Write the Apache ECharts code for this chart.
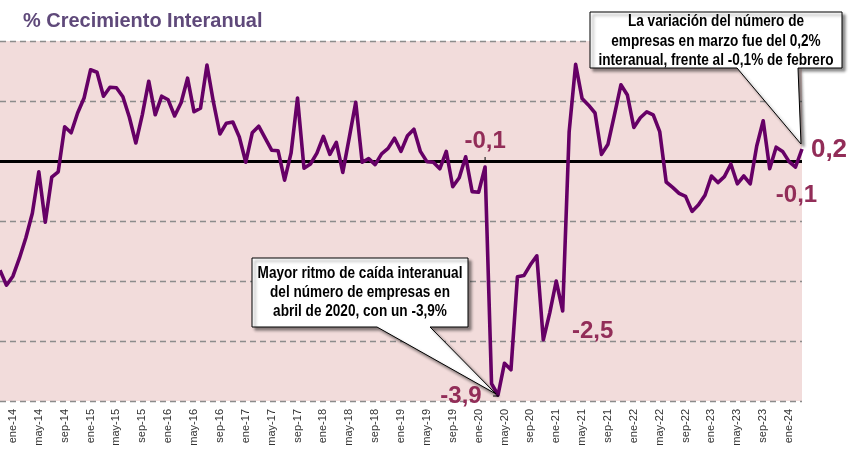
<!DOCTYPE html>
<html>
<head>
<meta charset="utf-8">
<script src="https://cdn.jsdelivr.net/npm/echarts@6.0.0/dist/echarts.min.js"></script>
<style>html,body{margin:0;padding:0;background:#fff}#c{width:850px;height:472px}</style>
</head>
<body>
<div id="c"></div>
<script>
// Months (Spanish abbreviations) and series start
const monthNames = ['ene','feb','mar','abr','may','jun','jul','ago','sep','oct','nov','dic'];
const startMonthIdx = 10; // nov
const startYear = 2013;

// % year-on-year growth in number of companies, nov-13 .. mar-24
const growth = [
  -1.82, -2.07, -1.92, -1.62, -1.28, -0.87, -0.18, -1.02, -0.27, -0.18,
   0.57,  0.47,  0.80,  1.05,  1.52,  1.48,  1.08,  1.23,  1.22,  1.07,
   0.73,  0.30,  0.77,  1.33,  0.77,  1.08,  1.02,  0.75,  0.97,  1.38,
   0.82,  0.88,  1.60,  0.98,  0.45,  0.63,  0.65,  0.40, -0.02,  0.47,
   0.58,  0.38,  0.18,  0.17, -0.32,  0.13,  1.05, -0.12, -0.05,  0.13,
   0.41,  0.11,  0.31, -0.19,  0.39,  0.98, -0.02,  0.04, -0.06,  0.12,
   0.21,  0.38,  0.16,  0.42,  0.53,  0.16, -0.01, -0.02, -0.13,  0.16,
  -0.43, -0.28,  0.07, -0.51, -0.52, -0.10, -3.71, -3.90, -3.37, -3.48,
  -1.93, -1.91, -1.73, -1.58, -2.98, -2.53, -2.00, -2.50,  0.49,  1.61,
   1.04,  0.93,  0.80,  0.11,  0.28,  0.77,  1.27,  1.10,  0.56,  0.72,
   0.82,  0.77,  0.49, -0.35, -0.44, -0.54, -0.59, -0.84, -0.73, -0.57,
  -0.25, -0.36, -0.26, -0.05, -0.38, -0.25, -0.38,  0.25,  0.67, -0.13,
   0.23,  0.16, -0.01, -0.10,  0.20
];

// Highlighted values: [index, label text]
const highlightIdx = [75, 77, 87, 124, 123];
const highlightText = ['-0,1', '-3,9', '-2,5', '0,2', '-0,1'];

const titleText = '% Crecimiento Interanual';
const calloutLow = ['Mayor ritmo de caída interanual', 'del número de empresas en', 'abril de 2020, con un -3,9%'];
const calloutHigh = ['La variación del número de', 'empresas en marzo fue del 0,2%', 'interanual, frente al -0,1% de febrero'];

const categories = [];
for (let i = 0; i < growth.length; i++) {
  const m = (startMonthIdx + i) % 12;
  const y = startYear + Math.floor((startMonthIdx + i) / 12);
  categories.push(monthNames[m] + '-' + String(y).slice(2));
}

const labelOffsets = [[0, -26], [-37, 1], [30, 20], [27, 1], [1, 28]];
const LABEL_COLOR = '#922d58';

const chart = echarts.init(document.getElementById('c'), null, {renderer: 'canvas'});
const option = {
  animation: false,
  backgroundColor: '#fff',
  grid: {
    left: 0, right: 48, top: 41, bottom: 71,
    show: true, backgroundColor: '#f2dcdb', borderWidth: 0,
    containLabel: false, outerBoundsMode: 'none'
  },
  xAxis: {
    type: 'category',
    data: categories,
    boundaryGap: false,
    axisLine: {show: false},
    axisTick: {show: false},
    splitLine: {show: false},
    axisLabel: {
      rotate: 90, margin: 8, fontSize: 11, color: '#333',
      fontFamily: 'Liberation Sans, Arial, sans-serif',
      interval: function (i) { return (i - 2) % 4 === 0; }
    }
  },
  yAxis: {
    type: 'value', min: -4, max: 2, interval: 1,
    axisLine: {show: false}, axisTick: {show: false}, axisLabel: {show: false},
    splitLine: {show: true, lineStyle: {color: '#8c8c8c', width: 1.3, type: [6, 4]}}
  },
  series: [{
    type: 'line',
    data: growth,
    symbol: 'none',
    z: 3,
    lineStyle: {color: '#660066', width: 3.6, join: 'round'},
    markLine: {
      silent: true, symbol: 'none', z: 2,
      label: {show: false},
      lineStyle: {color: '#000', width: 3, type: 'solid'},
      data: [{yAxis: 0}]
    },
    markPoint: {
      symbol: 'circle', symbolSize: 1,
      itemStyle: {color: 'rgba(0,0,0,0)'},
      data: highlightIdx.map((idx, k) => ({
        name: highlightText[k],
        coord: [idx, growth[idx]],
        label: {
          show: true, position: 'inside', formatter: highlightText[k],
          offset: labelOffsets[k],
          fontSize: k === 3 ? 26 : 24, fontWeight: 'bold', color: LABEL_COLOR,
          fontFamily: 'Liberation Sans, Arial, sans-serif'
        }
      }))
    }
  }]
};
chart.setOption(option);

function px(idx) { return chart.convertToPixel({gridIndex: 0}, [idx, growth[idx]]); }

function textLines(lines, cx, y0, dy, font, scale) {
  return lines.map((t, k) => ({
    type: 'group', x: cx, y: y0 + k * dy, scaleX: scale,
    children: [{
      type: 'text', z: 30,
      style: {text: t, x: 0, y: 0, font: font, fill: '#000',
              textAlign: 'center', textVerticalAlign: 'middle', align: 'center', verticalAlign: 'middle'}
    }]
  }));
}

const pLow = px(77);
const pHigh = px(124);
const pFeb20 = px(75);
const boxStyle = {fill: '#fff', stroke: '#000', lineWidth: 1,
  shadowBlur: 3, shadowOffsetX: 3, shadowOffsetY: 3, shadowColor: 'rgba(0,0,0,0.45)'};
const calloutFont = 'bold 16px "Liberation Sans", Arial, sans-serif';

const graphics = [
  {
    type: 'group', x: 23, y: 21, scaleX: 0.95,
    children: [{type: 'text', z: 30, style: {text: titleText, x: 0, y: 0,
      font: 'bold 21px "Liberation Sans", Arial, sans-serif', fill: '#5f497a',
      textAlign: 'left', textVerticalAlign: 'middle', align: 'left', verticalAlign: 'middle'}}]
  },
  // low callout
  {
    type: 'polygon', z: 15,
    shape: {points: [[252, 258], [468, 258], [468, 327], [430, 327], [pLow[0] - 2, pLow[1] - 1], [377, 327], [252, 327]]},
    style: boxStyle
  },
  // high callout
  {
    type: 'polygon', z: 15,
    shape: {points: [[590, 12], [842, 12], [842, 68], [798, 68], [pHigh[0] - 1, pHigh[1] - 5], [737, 68], [590, 68]]},
    style: boxStyle
  },
  // small leader ticks
  {type: 'line', z: 16, shape: {x1: pFeb20[0], y1: pFeb20[1] - 10, x2: pFeb20[0], y2: pFeb20[1] - 4}, style: {stroke: '#000', lineWidth: 1}},
  {type: 'line', z: 16, shape: {x1: pLow[0] - 5, y1: pLow[1] + 1, x2: pLow[0] + 1, y2: pLow[1] + 1}, style: {stroke: '#000', lineWidth: 1}}
]
  .concat(textLines(calloutLow, 360, 274, 19, calloutFont, 0.85))
  .concat(textLines(calloutHigh, 716, 22, 19.3, calloutFont, 0.85));

chart.setOption({graphic: graphics});
</script>
</body>
</html>
